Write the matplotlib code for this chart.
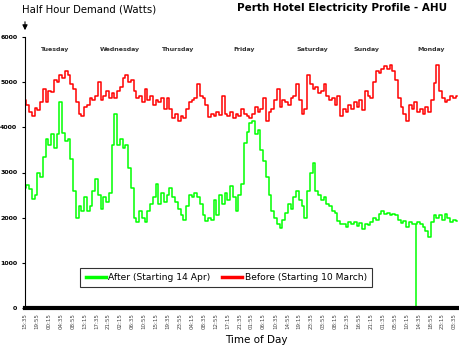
import matplotlib
matplotlib.use("Agg")
import matplotlib.pyplot as plt
import numpy as np

# hourly readings from the start of the logging period (Tuesday 15:35)
hours = np.arange(158)

after_watts = [
    2650, 2720, 2640, 2420, 2500, 2980, 2900, 3350, 3750, 3600,
    3850, 3550, 3850, 4550, 3870, 3700, 3750, 3300, 2600, 2000,
    2250, 2150, 2450, 2150, 2250, 2600, 2850, 2500, 2200, 2450,
    2350, 2550, 3600, 4300, 3600, 3750, 3550, 3600, 3100, 2650,
    2000, 1900, 2150, 2000, 1900, 2150, 2300, 2450, 2750, 2300,
    2550, 2350, 2500, 2650, 2450, 2350, 2200, 2050, 1950, 2250,
    2500, 2450, 2550, 2450, 2300, 2050, 1930, 2000, 1950, 2400,
    2050, 2500, 2300, 2550, 2400, 2700, 2450, 2150, 2500, 2750,
    3650, 3900, 4100, 4150, 3850, 3950, 3500, 3250, 2900, 2500,
    2150, 2000, 1850, 1780, 1950, 2100, 2300, 2200, 2450, 2600,
    2400, 2250, 2000, 2600, 3000, 3200, 2600, 2500, 2400, 2450,
    2300, 2250, 2150, 2100, 1930, 1870, 1850, 1800, 1900, 1850,
    1900, 1820, 1880, 1750, 1850, 1830, 1900, 2000, 1950, 2090,
    2150, 2080, 2100, 2050, 2080, 2050, 1950, 1880, 1920, 1800,
    1900, 1850, 1850, 1900, 1850, 1800, 1700, 1580, 1900, 2050,
    2000, 2050, 1950, 2080, 2000, 1900, 1950, 1920,
]

before_watts = [
    4600, 4500, 4350, 4250, 4420, 4380, 4550, 4850, 4550, 4800,
    4780, 5050, 5000, 5150, 5100, 5250, 5150, 4950, 4850, 4550,
    4300, 4250, 4450, 4500, 4650, 4600, 4700, 5000, 4600, 4700,
    4800, 4650, 4750, 4650, 4800, 4900, 5100, 5150, 5000, 5050,
    4800, 4650, 4700, 4550, 4850, 4600, 4700, 4500, 4600, 4550,
    4650, 4400, 4650, 4400, 4200, 4300, 4150, 4250, 4200, 4400,
    4550, 4600, 4650, 4950, 4700, 4650, 4500, 4220, 4300, 4250,
    4350, 4280, 4700, 4300, 4250, 4350, 4200, 4300, 4250, 4400,
    4300, 4250, 4200, 4300, 4450, 4350, 4400, 4650, 4150, 4350,
    4400, 4600, 4850, 4450, 4600, 4550, 4500, 4650, 4700, 4950,
    4600, 4300, 4400, 5150, 4950, 4850, 4900, 4750, 4800, 4950,
    4700, 4600, 4650, 4500, 4700, 4250, 4400, 4350, 4500, 4400,
    4550, 4450, 4600, 4380, 4800, 4700, 4650, 5000, 5250, 5200,
    5300, 5350, 5300, 5380, 5250, 5050, 4650, 4450, 4300, 4150,
    4500, 4400, 4550, 4350, 4400, 4300, 4450, 4350, 4600, 4980,
    5380, 4800, 4650, 4550, 4600, 4700, 4650, 4700,
]

# single zero reading (meter dropout) in the after series
dropout_hour = 142
dropout_watts = 0

tick_labels = [
    "15:35", "19:55", "00:15", "04:35", "08:55", "13:15", "17:35", "21:55",
    "02:15", "06:35", "10:55", "15:15", "19:35", "23:55", "04:15", "08:35",
    "12:55", "17:15", "21:35", "01:55", "06:15", "10:35", "14:55", "19:15",
    "23:35", "03:55", "08:15", "12:35", "16:55", "21:15", "01:35", "05:55",
    "10:15", "14:35", "18:55", "23:15", "03:35",
]
tick_step_hours = 260 / 60

day_names = ["Tuesday", "Wednesday", "Thursday", "Friday", "Saturday", "Sunday", "Monday"]
day_hours = [10.5, 34.4, 55.4, 79.7, 104.3, 123.9, 147.5]

fig = plt.figure(figsize=(4.59, 3.46), dpi=100)
ax = fig.add_axes([25 / 459, 38 / 346, 433.5 / 459, 271 / 346])

ax.plot(hours, after_watts, color="#00ff00", lw=1.1, drawstyle="steps-mid",
        label="After (Starting 14 Apr)")
ax.plot(hours, before_watts, color="#ff0000", lw=1.1, drawstyle="steps-mid",
        label="Before (Starting 10 March)")
ax.vlines(dropout_hour, dropout_watts, after_watts[dropout_hour], color="#00ff00", lw=1.1)

ax.set_xlim(0, 157.5)
ax.set_ylim(0, 6000)

for s in ["top", "right"]:
    ax.spines[s].set_visible(False)
ax.spines["left"].set_linewidth(0.8)
ax.spines["bottom"].set_linewidth(3)

ax.set_yticks(range(0, 6001, 1000))
ax.set_yticklabels([str(v) for v in range(0, 6001, 1000)], fontsize=4.5, fontweight="bold")
ax.tick_params(axis="y", length=2.5, width=0.8, pad=3)

ax.set_xticks(np.arange(len(tick_labels)) * tick_step_hours)
ax.set_xticklabels(tick_labels, rotation=90, fontsize=4, color="#444444")
ax.tick_params(axis="x", length=0, pad=4)

for name, h in zip(day_names, day_hours):
    ax.text(h, 0.955, name, transform=ax.get_xaxis_transform(), ha="center", va="center",
            fontsize=4.5, color="#333333", fontweight="bold")

leg = ax.legend(loc="center", bbox_to_anchor=(0.464, 0.113), ncol=2, fontsize=6.6,
                frameon=True, fancybox=False, handlelength=2.2, handletextpad=0.3,
                columnspacing=1.2, borderpad=0.55)
leg.get_frame().set_edgecolor("black")
leg.get_frame().set_linewidth(0.8)
for line in leg.get_lines():
    line.set_linewidth(2.5)

fig.text(22 / 459, 1 - 9 / 346, "Half Hour Demand (Watts)", fontsize=7.3, va="center", ha="left")
fig.text(447 / 459, 1 - 8 / 346, "Perth Hotel Electricity Profile - AHU", fontsize=7.5,
         fontweight="bold", va="center", ha="right")
fig.text(256 / 459, 1 - 340 / 346, "Time of Day", fontsize=7.5, va="center", ha="center")
fig.patches.append(matplotlib.patches.FancyArrowPatch(
    (25 / 459, 1 - 19 / 346), (25 / 459, 1 - 33 / 346), transform=fig.transFigure,
    arrowstyle="-|>,head_length=3,head_width=1.5", color="black", lw=0.8))

fig.savefig("out.png", dpi=100)
